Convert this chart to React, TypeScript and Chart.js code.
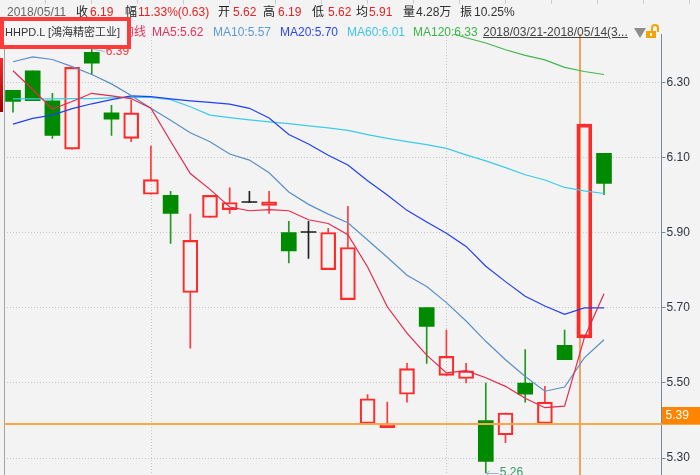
import React, { useEffect, useRef } from 'react';
import { Chart, registerables } from 'chart.js';

Chart.register(...registerables);

// ---- data ----
const opens = [6.28, 6.332, 6.252, 6.123, 6.381, 6.22, 6.152, 6.003, 6.0, 5.741, 5.941, 5.962, 5.981, 5.973, 5.901, 5.901, 5.802, 5.722, 5.392, 5.381, 5.47, 5.701, 5.52, 5.512, 5.4, 5.362, 5.5, 5.392, 5.6, 5.62, 6.112];
const highs = [6.28, 6.332, 6.272, 6.341, 6.39, 6.24, 6.254, 6.131, 6.011, 5.95, 6.0, 6.02, 6.011, 6.011, 5.931, 5.931, 5.912, 5.971, 5.469, 5.449, 5.552, 5.701, 5.641, 5.552, 5.5, 5.42, 5.589, 5.491, 5.641, 6.19, 6.112];
const lows = [6.222, 6.252, 6.152, 6.123, 6.322, 6.16, 6.143, 6.003, 5.872, 5.593, 5.941, 5.952, 5.981, 5.952, 5.82, 5.832, 5.802, 5.722, 5.392, 5.381, 5.449, 5.552, 5.52, 5.5, 5.26, 5.341, 5.449, 5.392, 5.562, 5.62, 6.002];
const closes = [6.25, 6.252, 6.16, 6.341, 6.352, 6.203, 6.22, 6.042, 5.952, 5.88, 6.0, 5.981, 5.981, 5.983, 5.852, 5.901, 5.901, 5.861, 5.458, 5.39, 5.538, 5.651, 5.571, 5.532, 5.291, 5.42, 5.47, 5.449, 5.562, 6.19, 6.032];

const ma5 = [6.332, 6.282, 6.23, 6.25, 6.272, 6.265, 6.258, 6.232, 6.144, 6.058, 6.016, 5.969, 5.959, 5.962, 5.959, 5.935, 5.925, 5.895, 5.809, 5.703, 5.633, 5.574, 5.527, 5.533, 5.514, 5.491, 5.459, 5.434, 5.438, 5.62, 5.738];
const ma10 = [6.356, 6.369, 6.362, 6.343, 6.322, 6.297, 6.266, 6.232, 6.2, 6.167, 6.143, 6.11, 6.094, 6.06, 6.009, 5.976, 5.95, 5.927, 5.881, 5.835, 5.787, 5.757, 5.714, 5.665, 5.611, 5.562, 5.517, 5.478, 5.489, 5.567, 5.615];
const ma20 = [6.19, 6.205, 6.214, 6.231, 6.244, 6.255, 6.265, 6.263, 6.257, 6.252, 6.248, 6.243, 6.232, 6.206, 6.162, 6.137, 6.107, 6.081, 6.039, 6.001, 5.96, 5.929, 5.899, 5.864, 5.811, 5.77, 5.731, 5.705, 5.683, 5.7, 5.7];
const ma60 = [6.257, 6.257, 6.257, 6.258, 6.258, 6.26, 6.262, 6.261, 6.255, 6.236, 6.214, 6.207, 6.201, 6.196, 6.191, 6.185, 6.18, 6.173, 6.162, 6.152, 6.143, 6.135, 6.125, 6.108, 6.092, 6.074, 6.055, 6.041, 6.021, 6.012, 6.005];
const ma120 = [null, null, null, null, null, null, null, null, null, null, null, null, null, null, null, null, null, null, null, null, null, null, 6.436, 6.42, 6.406, 6.388, 6.373, 6.361, 6.341, 6.33, 6.322];

const yTicks = [5.3, 5.5, 5.7, 5.9, 6.1, 6.3];
const monthStarts = [7, 22];
const selectedIndex = 29;
const crosshairPrice = 5.39;

const headerRow1 = [
  { t: '2018/05/11', x: 7, c: '#666' },
  { t: '收', x: 76, c: '#222' }, { t: '6.19', x: 90, c: '#e52222' },
  { t: '幅', x: 125, c: '#222' }, { t: '11.33%(0.63)', x: 138, c: '#e52222' },
  { t: '开', x: 218, c: '#222' }, { t: '5.62', x: 233, c: '#e52222' },
  { t: '高', x: 263, c: '#222' }, { t: '6.19', x: 278, c: '#e52222' },
  { t: '低', x: 312, c: '#222' }, { t: '5.62', x: 328, c: '#e52222' },
  { t: '均', x: 356, c: '#222' }, { t: '5.91', x: 369, c: '#e52222' },
  { t: '量', x: 403, c: '#222' }, { t: '4.28万', x: 416, c: '#333' },
  { t: '振', x: 460, c: '#222' }, { t: '10.25%', x: 474, c: '#333' },
];
const legendItems = [
  { t: 'MA5:5.62', x: 152, c: '#e8305a' },
  { t: 'MA10:5.57', x: 213, c: '#5b9bd5' },
  { t: 'MA20:5.70', x: 280, c: '#2a48f5' },
  { t: 'MA60:6.01', x: 347, c: '#3fc4e8' },
  { t: 'MA120:6.33', x: 413, c: '#3cb44a' },
];

const RED = '#ff2a2a';
const GREEN = '#008a00';
const DOJI = '#1a1a1a';
const FONT = '"Liberation Sans", "Noto Sans CJK SC", sans-serif';

const overlayPlugin = {
  id: 'overlay',
  beforeDatasetsDraw(chart: any) {
    const { ctx, chartArea: a, scales } = chart;
    const x = scales.x, y = scales.y;
    ctx.save();
    ctx.lineWidth = 1;
    ctx.strokeStyle = '#c6c6c6';
    ctx.setLineDash([1, 2]);
    monthStarts.forEach((i) => {
      const px = Math.round(x.getPixelForValue(i)) + 0.5;
      ctx.beginPath();
      ctx.moveTo(px, a.top);
      ctx.lineTo(px, a.bottom);
      ctx.stroke();
    });
    ctx.setLineDash([]);
    ctx.strokeStyle = '#a4a4a4';
    ctx.beginPath();
    ctx.moveTo(a.left + 0.5, a.top + 14);
    ctx.lineTo(a.left + 0.5, a.bottom);
    ctx.stroke();
    // vertical crosshair
    const cx = Math.round(x.getPixelForValue(selectedIndex)) - 4;
    ctx.strokeStyle = '#f4a25a';
    ctx.lineWidth = 2;
    ctx.beginPath();
    ctx.moveTo(cx, a.top);
    ctx.lineTo(cx, a.bottom);
    ctx.stroke();
    ctx.restore();
  },
  afterDatasetsDraw(chart: any) {
    const { ctx, chartArea: a, scales } = chart;
    const x = scales.x, y = scales.y;
    ctx.save();
    // horizontal crosshair
    const py = Math.round(y.getPixelForValue(crosshairPrice));
    ctx.strokeStyle = '#ffa54a';
    ctx.lineWidth = 2;
    ctx.beginPath();
    ctx.moveTo(a.left, py);
    ctx.lineTo(chart.width, py);
    ctx.stroke();
    ctx.fillStyle = '#ff8400';
    ctx.fillRect(a.right + 0.5, py - 17, chart.width - a.right, 17);
    ctx.fillStyle = '#ffffff';
    ctx.font = '12px ' + FONT;
    ctx.textBaseline = 'middle';
    ctx.textAlign = 'left';
    ctx.fillText(crosshairPrice.toFixed(2), a.right + 4, py - 8);

    // high / low markers
    let hi = 0, lo = 0;
    highs.forEach((v, i) => { if (v > highs[hi]) hi = i; });
    lows.forEach((v, i) => { if (v < lows[lo]) lo = i; });
    const hx = x.getPixelForValue(hi), hy = y.getPixelForValue(highs[hi]);
    ctx.strokeStyle = '#8fb4d6';
    ctx.lineWidth = 1;
    ctx.beginPath();
    ctx.moveTo(hx + 2, hy + 0.5);
    ctx.lineTo(hx + 13, hy + 2.5);
    ctx.stroke();
    ctx.fillStyle = '#e83a3a';
    ctx.fillText(highs[hi].toFixed(2), hx + 14, hy + 3);

    const lx = x.getPixelForValue(lo), ly = y.getPixelForValue(lows[lo]);
    ctx.strokeStyle = '#8fb4d6';
    ctx.beginPath();
    ctx.moveTo(lx + 1, ly + 0.5);
    ctx.lineTo(lx + 13, ly + 0.5);
    ctx.moveTo(lx + 4, ly - 2.5);
    ctx.lineTo(lx + 1, ly + 0.5);
    ctx.lineTo(lx + 4, ly + 3.5);
    ctx.stroke();
    ctx.fillStyle = '#3a9a6a';
    ctx.fillText(lows[lo].toFixed(2), lx + 14, ly);
    ctx.restore();
  },
};

export default function App() {
  const ref = useRef<HTMLCanvasElement>(null);

  useEffect(() => {
    const canvas = ref.current as HTMLCanvasElement;
    const idx = closes.map((_, i) => i);
    const up = (i: number) => closes[i] > opens[i];
    const doji = (i: number) => closes[i] === opens[i];
    const candleColor = idx.map((i) => (doji(i) ? DOJI : up(i) ? RED : GREEN));
    const wickColor = idx.map((i) => (doji(i) ? '#222' : up(i) ? '#ff3a3a' : '#1f9a1f'));

    const line = (label: string, data: (number | null)[], color: string) => ({
      type: 'line' as const,
      label,
      data: data.map((v, i) => ({ x: i, y: v })),
      borderColor: color,
      borderWidth: 1.2,
      pointRadius: 0,
      tension: 0,
      order: 0,
      spanGaps: false,
    });

    const chart = new Chart(canvas, {
      type: 'bar',
      data: {
        datasets: [
          line('MA5', ma5, '#e6284e'),
          line('MA10', ma10, '#5a8fc6'),
          line('MA20', ma20, '#2140f2'),
          line('MA60', ma60, '#3ccbe6'),
          line('MA120', ma120, '#40b84c'),
          {
            type: 'bar',
            label: 'body',
            data: idx.map((i) => ({ x: i, y: [opens[i], closes[i]] })),
            backgroundColor: idx.map((i) => (up(i) ? 'rgba(0,0,0,0)' : candleColor[i])),
            borderColor: candleColor,
            borderWidth: idx.map((i) => (up(i) ? (i === selectedIndex ? 3 : 1.5) : 0)),
            borderSkipped: false,
            barThickness: 15,
            maxBarThickness: 15,
            minBarLength: 1,
            grouped: false,
            order: 1,
          } as any,
          {
            type: 'bar',
            label: 'upper',
            data: idx.map((i) => ({ x: i, y: [Math.max(opens[i], closes[i]), highs[i]] })),
            backgroundColor: wickColor,
            borderWidth: 0,
            barThickness: 1,
            maxBarThickness: 1,
            grouped: false,
            order: 2,
          } as any,
          {
            type: 'bar',
            label: 'lower',
            data: idx.map((i) => ({ x: i, y: [lows[i], Math.min(opens[i], closes[i])] })),
            backgroundColor: wickColor,
            borderWidth: 0,
            barThickness: 1,
            maxBarThickness: 1,
            grouped: false,
            order: 2,
          } as any,
        ],
      },
      options: {
        responsive: false,
        animation: false,
        events: [],
        layout: { padding: { left: 4, top: 34, right: 0, bottom: 0 } },
        plugins: { legend: { display: false }, tooltip: { enabled: false } },
        scales: {
          x: {
            type: 'linear',
            display: false,
            offset: false,
            min: -0.4569,
            max: 32.919,
          },
          y: {
            type: 'linear',
            position: 'right',
            min: 5.2547,
            max: 6.43,
            beginAtZero: false,
            border: { display: true, color: '#74889c', width: 1, dash: [1, 2] },
            grid: {
              color: '#c6c6c6',
              lineWidth: 1,
              drawTicks: true,
              tickLength: 4,
              tickColor: '#74889c',
              tickBorderDash: [],
            },
            ticks: {
              color: '#2e3640',
              padding: 1,
              font: { family: FONT, size: 12 },
              callback: (v: any) => Number(v).toFixed(2),
            },
            afterBuildTicks: (s: any) => {
              s.ticks = yTicks.map((v) => ({ value: v }));
            },
            afterFit: (s: any) => {
              s.width = 38.5;
              s.paddingTop = 0;
              s.paddingBottom = 0;
            },
          },
        },
      } as any,
      plugins: [overlayPlugin],
    });
    return () => chart.destroy();
  }, []);

  const txt: React.CSSProperties = {
    position: 'absolute',
    whiteSpace: 'nowrap',
    fontSize: 12,
    lineHeight: '14px',
    fontFamily: FONT,
  };

  return (
    <div
      style={{
        position: 'fixed',
        left: 0,
        top: 0,
        width: 700,
        height: 475,
        overflow: 'hidden',
        background: '#f3f3f3',
        fontFamily: FONT,
      }}
    >
      <canvas ref={ref} width={700} height={475} style={{ position: 'absolute', left: 0, top: 0, width: 700, height: 475 }} />
      <div
        style={{
          position: 'absolute', left: 0, top: 0, width: 700, height: 4,
          backgroundImage: 'repeating-linear-gradient(90deg, transparent 0px, transparent 45px, #cdcdcd 45px, #cdcdcd 46px)',
        }}
      />
      {headerRow1.map((h, k) => (
        <div key={'h' + k} style={{ ...txt, left: h.x, top: 5, color: h.c }}>{h.t}</div>
      ))}
      <div style={{ ...txt, left: 122, top: 25, color: '#e8305a' }}>均线</div>
      {legendItems.map((l, k) => (
        <div key={'l' + k} style={{ ...txt, left: l.x, top: 25, color: l.c }}>{l.t}</div>
      ))}
      <div style={{ ...txt, left: 483, top: 25, color: '#444', textDecoration: 'underline' }}>2018/03/21-2018/05/14(3...</div>
      <div
        style={{
          position: 'absolute', left: 634, top: 28, width: 0, height: 0,
          borderLeft: '6px solid transparent', borderRight: '6px solid transparent', borderTop: '10px solid #8c8c8c',
        }}
      />
      <div
        style={{
          position: 'absolute', left: 651, top: 24, width: 4, height: 6,
          border: '2px solid #f5a300', borderBottom: 'none', borderRadius: '4px 4px 0 0',
        }}
      />
      <div style={{ position: 'absolute', left: 646, top: 31, width: 10, height: 7, background: '#f5a300' }} />
      <div style={{ position: 'absolute', left: 650, top: 33, width: 2, height: 3, background: '#fff' }} />
      <div
        style={{
          position: 'absolute', left: 0, top: 17, width: 131, height: 32, boxSizing: 'border-box',
          border: '4px solid #ff3c3c', background: '#f5f5f5',
        }}
      >
        <div style={{ ...txt, left: 1, top: 4, fontSize: 11, color: '#333' }}>HHPD.L [鴻海精密工业]</div>
      </div>
      <div
        style={{
          position: 'absolute', left: 0, top: 58, width: 3, height: 54,
          background: 'linear-gradient(#ff2a2a, #a00000)',
        }}
      />
    </div>
  );
}
